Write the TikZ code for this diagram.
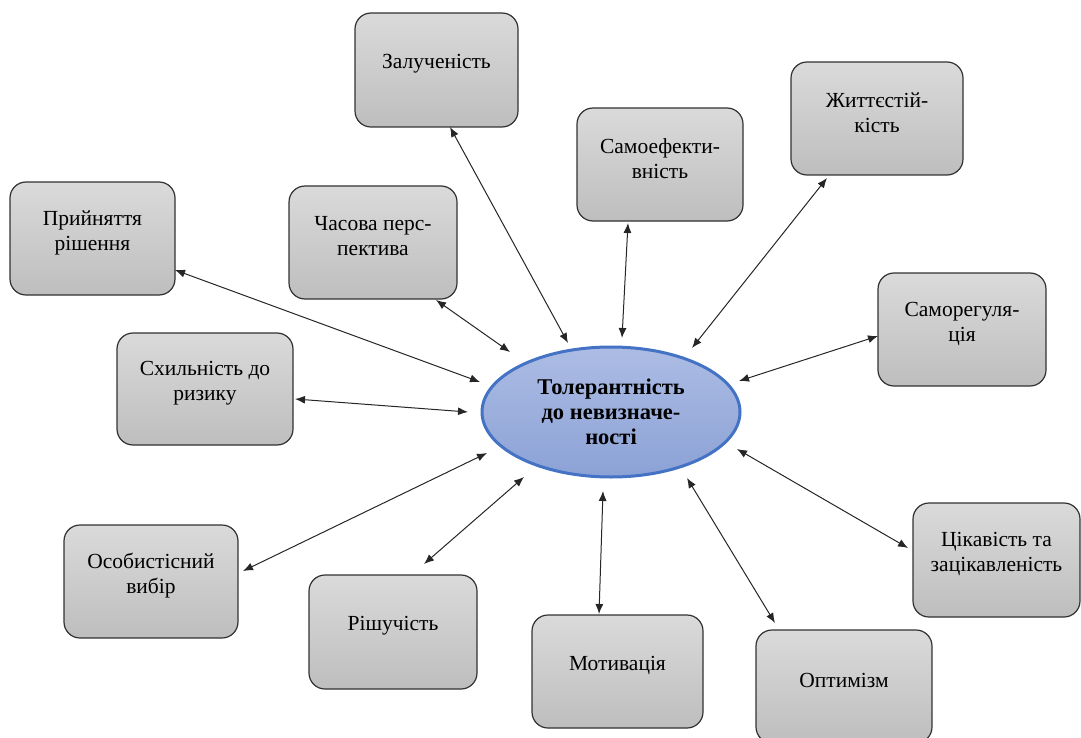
\documentclass[tikz,border=0pt]{standalone}
\usepackage{fontspec}
\setmainfont{Liberation Serif}
\usetikzlibrary{arrows.meta,shapes.geometric}
\definecolor{boxtop}{RGB}{218,218,218}
\definecolor{boxbot}{RGB}{190,190,190}
\definecolor{boxline}{RGB}{50,50,50}
\definecolor{ovaltop}{RGB}{172,188,228}
\definecolor{ovalbot}{RGB}{140,162,214}
\definecolor{ovalline}{RGB}{68,114,196}
\begin{document}
\begin{tikzpicture}[x=1pt,y=-1pt,
  box/.style={draw=boxline, line width=1.2pt, rounded corners=16pt, top color=boxtop, bottom color=boxbot, inner sep=0pt},
  txt/.style={align=center, font=\fontsize{21.5}{25}\selectfont, inner sep=0pt},
  oval/.style={ellipse, draw=ovalline, line width=3pt, top color=ovaltop, bottom color=ovalbot, inner sep=0pt, minimum width=258pt, minimum height=130pt, align=center, font=\bfseries\fontsize{22.5}{25}\selectfont},
  link/.style={{Latex[length=10pt,width=8pt]}-{Latex[length=10pt,width=8pt]}, line width=1pt, draw=black!85}]
\useasboundingbox (0,0) rectangle (1081,738);
\clip (0,0) rectangle (1081,738);

% boxes
\node[box, minimum width=163pt, minimum height=114pt] (zal) at (436.5,70) {};
\node[txt] (zalt) at ([yshift=6pt]zal.center) {Залученість};
\node[box, minimum width=166pt, minimum height=113pt] (samo) at (660,164.5) {};
\node[txt] (samot) at ([yshift=6pt]samo.center) {Самоефекти-\\вність};
\node[box, minimum width=172pt, minimum height=113pt] (zhyt) at (877,118.5) {};
\node[txt] (zhytt) at ([yshift=6pt]zhyt.center) {Життєстій-\\кість};
\node[box, minimum width=165pt, minimum height=113pt] (pryi) at (92.5,238.5) {};
\node[txt] (pryit) at ([yshift=6pt]pryi.center) {Прийняття\\рішення};
\node[box, minimum width=168pt, minimum height=113pt] (chas) at (373,242.5) {};
\node[txt] (chast) at ([yshift=6pt]chas.center) {Часова перс-\\пектива};
\node[box, minimum width=168pt, minimum height=113pt] (samor) at (962,329.5) {};
\node[txt] (samort) at ([yshift=6pt]samor.center) {Саморегуля-\\ція};
\node[box, minimum width=176pt, minimum height=112pt] (skhyl) at (205,389) {};
\node[txt] (skhylt) at ([yshift=6pt]skhyl.center) {Схильність до\\ризику};
\node[box, minimum width=174pt, minimum height=113pt] (osob) at (151,581.5) {};
\node[txt] (osobt) at ([yshift=6pt]osob.center) {Особистісний\\вибір};
\node[box, minimum width=168pt, minimum height=114pt] (rish) at (393,632) {};
\node[txt] (risht) at ([yshift=6pt]rish.center) {Рішучість};
\node[box, minimum width=171pt, minimum height=113pt] (motyv) at (617.5,671.5) {};
\node[txt] (motyvt) at ([yshift=6pt]motyv.center) {Мотивація};
\node[box, minimum width=176pt, minimum height=113pt] (opt) at (844,686.5) {};
\node[txt] (optt) at ([yshift=6pt]opt.center) {Оптимізм};
\node[box, minimum width=167pt, minimum height=114pt] (tsik) at (996.5,560) {};
\node[txt] (tsikt) at ([yshift=6pt]tsik.center) {Цікавість та\\зацікавленість};

% central ellipse
\node[oval] (el) at (611,412) {Толерантність\\до невизначе-\\ності};

% connectors
\draw[link] ([shift={(13.5,57)}]zal.center) -- ([shift={(-43,-69)}]el.center);
\draw[link] ([shift={(-32,58.5)}]samo.center) -- ([shift={(11,-74)}]el.center);
\draw[link] ([shift={(-50,59.5)}]zhyt.center) -- ([shift={(81,-64)}]el.center);
\draw[link] ([shift={(82.5,31.5)}]pryi.center) -- ([shift={(-131,-30)}]el.center);
\draw[link] ([shift={(63,57.5)}]chas.center) -- ([shift={(-101,-60)}]el.center);
\draw[link] ([shift={(-84,6.5)}]samor.center) -- ([shift={(128,-31)}]el.center);
\draw[link] ([shift={(90,10)}]skhyl.center) -- ([shift={(-143,0)}]el.center);
\draw[link] ([shift={(92,-10.5)}]osob.center) -- ([shift={(-124,41)}]el.center);
\draw[link] ([shift={(31,-68)}]rish.center) -- ([shift={(-87,65)}]el.center);
\draw[link] ([shift={(-18.5,-57.5)}]motyv.center) -- ([shift={(-8,79)}]el.center);
\draw[link] ([shift={(-69,-63.5)}]opt.center) -- ([shift={(76,66)}]el.center);
\draw[link] ([shift={(-88.5,-12)}]tsik.center) -- ([shift={(126,37)}]el.center);
\end{tikzpicture}
\end{document}
